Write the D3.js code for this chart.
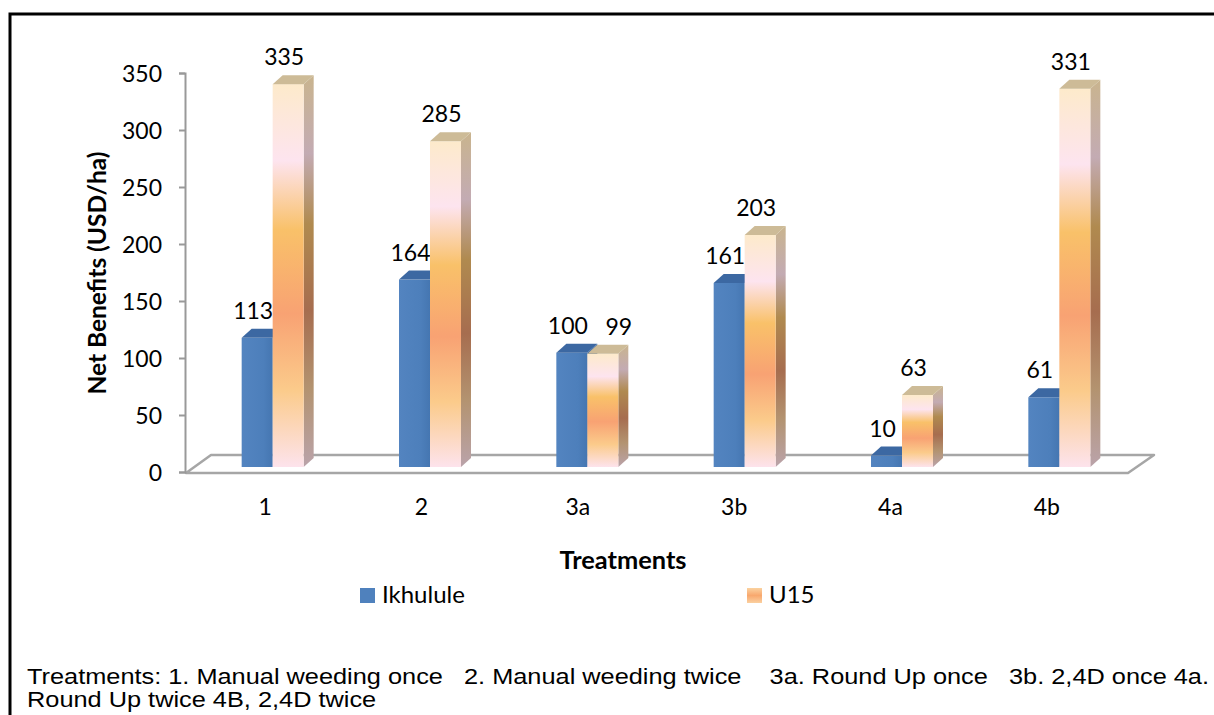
<!DOCTYPE html>
<html>
<head>
<meta charset="utf-8">
<script src="https://cdn.jsdelivr.net/npm/d3@7"></script>
<style>
body { margin: 0; background: #fff; }
text { font-family: Lato, "Open Sans", sans-serif; fill: #000; }
</style>
</head>
<body>
<div id="chart"></div>
<script>
// data
let treatments = ["1", "2", "3a", "3b", "4a", "4b"];
let seriesNames = ["Ikhulule", "U15"];
let ikhulule = [113, 164, 100, 161, 10, 61];
let u15 = [335, 285, 99, 203, 63, 331];
let yTicks = [0, 50, 100, 150, 200, 250, 300, 350];
let captionLines = [
    "Treatments: 1. Manual weeding once   2. Manual weeding twice    3a. Round Up once   3b. 2,4D once 4a.",
    "Round Up twice 4B, 2,4D twice"
];

let width = 1214,
    height = 715,
    fontSize = "23px";

let svg = d3.select("#chart").append("svg")
    .attr("width", width)
    .attr("height", height);

let defs = svg.append("defs");

function gradient(id, stops, horizontal) {
    let g = defs.append("linearGradient")
        .attr("id", id)
        .attr("x1", 0).attr("y1", 0)
        .attr("x2", horizontal ? 1 : 0)
        .attr("y2", horizontal ? 0 : 1);
    g.selectAll("stop")
        .data(stops)
        .enter()
        .append("stop")
        .attr("offset", function(d) { return d[0]; })
        .attr("stop-color", function(d) { return d[1]; });
}

gradient("orangeFront", [[0, "#fdeacb"], [0.2, "#fde4ef"], [0.38, "#f9c169"], [0.6, "#f8a273"], [0.8, "#fbcb8b"], [1, "#fde3ec"]]);
gradient("orangeSide", [[0, "#c9b48e"], [0.2, "#c3abb3"], [0.38, "#b08a4f"], [0.6, "#a66d4f"], [0.8, "#b39370"], [1, "#baa3aa"]]);
gradient("blueFront", [[0, "#5384c0"], [0.7, "#4d7fbb"], [1, "#4576b1"]], true);
gradient("legendOrange", [[0, "#fbd2a0"], [0.5, "#f8a86e"], [1, "#fbd0a0"]]);

// outer frame, runs off the bottom and right of the picture
svg.append("rect")
    .attr("x", 10).attr("y", 14)
    .attr("width", width).attr("height", height)
    .attr("fill", "none")
    .attr("stroke", "#000")
    .attr("stroke-width", 3);

// scales
let x = d3.scaleBand().domain(treatments).range([187, 1125]);
let xBar = d3.scaleBand().domain(treatments).range([194, 1138]);
let barW = 31;
let xSeries = d3.scaleBand().domain(seriesNames)
    .range([xBar.bandwidth() / 2 - barW, xBar.bandwidth() / 2 + barW]);
let yAxisScale = d3.scaleLinear().domain([0, 350]).range([472, 73]);
let yBar = d3.scaleLinear().domain([0, 350]).range([467, 67]);
let depthX = 10,
    depthY = -9;

function pts(arr) { return arr.map(function(p) { return p.join(","); }).join(" "); }

// floor of the 3d plot
svg.append("polygon")
    .attr("points", pts([[186, 473], [211, 455], [1154, 455], [1128, 473]]))
    .attr("fill", "#fff")
    .attr("stroke", "#a6a6a6")
    .attr("stroke-width", 2.5)
    .attr("stroke-linejoin", "round");

// y axis
let yAxis = svg.append("g")
    .attr("transform", "translate(185,0)")
    .call(d3.axisLeft(yAxisScale).tickValues(yTicks).tickSize(6).tickPadding(17));
yAxis.selectAll("path, line").attr("stroke", "#999").attr("stroke-width", 2);
yAxis.selectAll("text")
    .attr("dy", "0.35em")
    .style("font-size", fontSize)
    .style("font-family", "Lato, sans-serif");

// x labels
svg.append("g")
    .selectAll("text")
    .data(treatments)
    .enter()
    .append("text")
    .attr("x", function(d) { return x(d) + x.bandwidth() / 2; })
    .attr("y", 515)
    .attr("text-anchor", "middle")
    .style("font-size", fontSize)
    .text(function(d) { return d; });

// bars
let bars = [];
treatments.forEach(function(t, i) {
    bars.push({ t: t, s: "Ikhulule", v: ikhulule[i], other: u15[i] });
    bars.push({ t: t, s: "U15", v: u15[i], other: ikhulule[i] });
});

let bar = svg.append("g")
    .selectAll("g")
    .data(bars)
    .enter()
    .append("g");

bar.each(function(d) {
    let g = d3.select(this);
    let x0 = xBar(d.t) + xSeries(d.s),
        yt = yBar(d.v),
        yb = yBar(0);
    let blue = d.s === "Ikhulule";
    g.append("polygon")
        .attr("points", pts([[x0 + barW, yt], [x0 + barW + depthX, yt + depthY], [x0 + barW + depthX, yb + depthY], [x0 + barW, yb]]))
        .attr("fill", blue ? "#3b69a3" : "url(#orangeSide)");
    g.append("rect")
        .attr("x", x0).attr("y", yt)
        .attr("width", barW).attr("height", yb - yt)
        .attr("fill", blue ? "url(#blueFront)" : "url(#orangeFront)");
    g.append("polygon")
        .attr("points", pts([[x0, yt], [x0 + depthX, yt + depthY], [x0 + barW + depthX, yt + depthY], [x0 + barW, yt]]))
        .attr("fill", blue ? "#3c68a2" : "#cdbb97");
});

// value labels; when the pair is about the same height the labels are pushed apart
bar.append("text")
    .attr("x", function(d) {
        let cx = xBar(d.t) + xSeries(d.s) + barW / 2 - 4;
        if (Math.abs(yBar(d.v) - yBar(d.other)) < 20 && d.s === "U15") {
            cx += 20;
        }
        return cx;
    })
    .attr("y", function(d) { return yBar(d.v) - 19; })
    .attr("text-anchor", "middle")
    .style("font-size", fontSize)
    .text(function(d) { return d.v; });

// axis titles
svg.append("text")
    .attr("x", 623).attr("y", 569)
    .attr("text-anchor", "middle")
    .attr("textLength", 127)
    .attr("lengthAdjust", "spacingAndGlyphs")
    .style("font-size", "24px")
    .style("font-weight", "bold")
    .text("Treatments");

svg.append("text")
    .attr("transform", "translate(106,273) rotate(-90)")
    .attr("text-anchor", "middle")
    .attr("textLength", 243)
    .attr("lengthAdjust", "spacingAndGlyphs")
    .style("font-size", "24px")
    .style("font-weight", "bold")
    .text("Net Benefits (USD/ha)");

// legend
let legendX = [360, 747];
let legend = svg.append("g")
    .selectAll("g")
    .data(seriesNames)
    .enter()
    .append("g")
    .attr("transform", function(d, i) { return "translate(" + legendX[i] + ",588)"; });
legend.append("rect")
    .attr("width", 15).attr("height", 15)
    .attr("fill", function(d, i) { return i === 0 ? "#4f81bd" : "url(#legendOrange)"; });
legend.append("text")
    .attr("x", 22).attr("y", 15)
    .style("font-size", "24px")
    .text(function(d) { return d; });

// caption under the chart, narrow like the original
let caption = svg.append("g")
    .selectAll("text")
    .data(captionLines)
    .enter()
    .append("text")
    .attr("x", 27)
    .attr("y", function(d, i) { return 684 + i * 23; })
    .attr("xml:space", "preserve")
    .style("white-space", "pre")
    .style("font-family", "'Liberation Sans', Arial, sans-serif")
    .style("font-size", "22px")
    .text(function(d) { return d; });

let first = caption.nodes()[0];
let ratio = 1182 / first.getComputedTextLength();
caption.each(function() {
    let n = this.getComputedTextLength();
    d3.select(this)
        .attr("textLength", n * ratio)
        .attr("lengthAdjust", "spacingAndGlyphs");
});
</script>
</body>
</html>
